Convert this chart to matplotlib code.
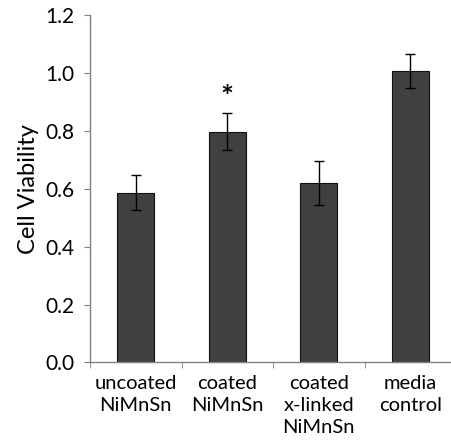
import matplotlib
matplotlib.use("Agg")
import matplotlib.pyplot as plt

plt.rcParams['font.family'] = ['Lato', 'DejaVu Sans']

groups = ["uncoated\nNiMnSn", "coated\nNiMnSn", "coated\nx-linked\nNiMnSn", "media\ncontrol"]
viability = [0.586, 0.797, 0.620, 1.008]
errors = [0.061, 0.063, 0.077, 0.059]
yticks = [0.0, 0.2, 0.4, 0.6, 0.8, 1.0, 1.2]

fig = plt.figure(figsize=(4.51, 4.42), dpi=100)
ax = fig.add_axes([0.1996, 0.180, 0.8115, 0.786])

x = range(len(groups))
ax.bar(x, viability, width=0.40, color="#404040", edgecolor="#111111", linewidth=0.8,
       yerr=errors, error_kw=dict(ecolor="black", elinewidth=1.0, capsize=3.5, capthick=1.0))

# significance marker over the coated sample
ax.text(1, 0.915, "*", ha="center", va="center", fontsize=22, fontweight="bold")

ax.set_xlim(-0.5, 3.5)
ax.set_ylim(0, 1.2)
ax.set_yticks(yticks)
ax.set_yticklabels(["%.1f" % t for t in yticks], fontsize=15)
ax.set_xticks(list(x))
ax.set_xticklabels(groups, fontsize=14.5, linespacing=1.35, va="top")
ax.set_xticks([-0.5, 0.5, 1.5, 2.5, 3.5], minor=True)
ax.tick_params(axis="x", which="major", length=0, pad=9)
ax.tick_params(axis="x", which="minor", length=4, color="#808080", direction="out")
ax.tick_params(axis="y", length=4, color="#808080", pad=7)
ax.set_ylabel("Cell Viability", fontsize=17, labelpad=5)

for s in ["top", "right"]:
    ax.spines[s].set_visible(False)
for s in ["left", "bottom"]:
    ax.spines[s].set_color("#808080")
    ax.spines[s].set_linewidth(1.0)

fig.savefig("out.png", dpi=100)
